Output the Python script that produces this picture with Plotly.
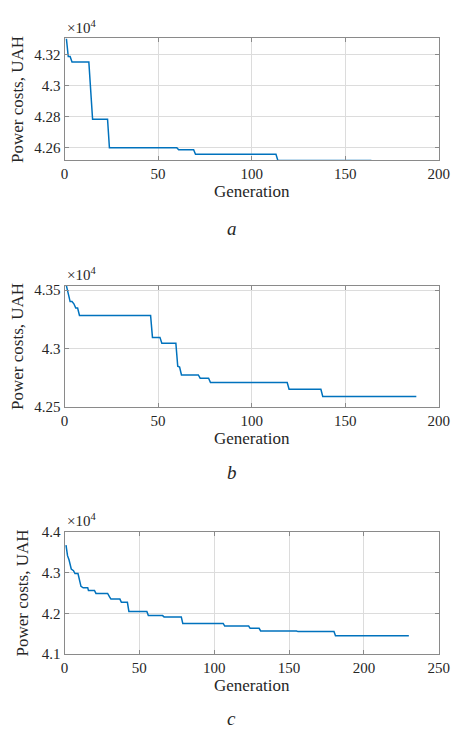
import plotly.graph_objects as go

# ---------------- data ----------------
gen_a = [1, 2, 3, 4, 13, 15, 23, 24, 60, 61, 69, 70, 113, 114, 164]
cost_a = [43303, 43187, 43187, 43152, 43152, 42783, 42783, 42600, 42600, 42587, 42587, 42558, 42558, 42518, 42518]

gen_b = [1, 3, 4, 5, 6, 7, 8, 46, 47, 51, 52, 59.5, 60.5, 61.5, 62.5, 71.5, 72.5, 77, 78, 119, 120, 137, 138, 188]
cost_b = [43538, 43402, 43402, 43383, 43346, 43346, 43283, 43283, 43096, 43096, 43046, 43046, 42850, 42843,
          42775, 42775, 42748, 42748, 42711, 42711, 42653, 42653, 42592, 42592]

gen_c = [1, 2, 3, 4.5, 6, 7, 9, 10, 11, 12.5, 15.5, 16, 20, 21, 28.8, 30, 31, 37, 38, 42, 43, 55, 56, 65.5,
         66.5, 78, 79, 106, 107, 123, 124, 130, 131, 155, 156, 180, 181, 230]
cost_c = [43680, 43420, 43320, 43090, 43050, 42980, 42980, 42790, 42663, 42627, 42627, 42564, 42564, 42490,
          42490, 42410, 42350, 42350, 42270, 42270, 42048, 42048, 41944, 41944, 41912, 41912, 41752, 41752,
          41687, 41687, 41630, 41630, 41566, 41566, 41550, 41550, 41446, 41446]

xticks_ab = [0, 50, 100, 150, 200]
xticks_c = [0, 50, 100, 150, 200, 250]

yticks_a = [42600, 42800, 43000, 43200]
ylabels_a = ["4.26", "4.28", "4.3", "4.32"]
yticks_b = [42500, 43000, 43500]
ylabels_b = ["4.25", "4.3", "4.35"]
yticks_c = [41000, 42000, 43000, 44000]
ylabels_c = ["4.1", "4.2", "4.3", "4.4"]

panel_letters = ["a", "b", "c"]
x_title = "Generation"
y_title = "Power costs, UAH"
exp_label = "×10<sup>4</sup>"

# ---------------- figure ----------------
# the page body adds an 8 px margin, so the figure is made 8 px smaller and
# every page-pixel position is shifted by that offset
OFF = 8
PAGE_W, PAGE_H = 464, 735
W, H = PAGE_W - OFF, PAGE_H - OFF
FONT = "Liberation Serif, Times New Roman, serif"
LINE = "#0072BD"
AXC = "#8a8a8a"
GRID = "#dcdcdc"
TXT = "#262626"


def px_x(p):
    return (p - OFF) / W


def px_y(p):
    return 1 - (p - OFF) / H


panels = [
    dict(x=gen_a, y=cost_a, xr=[0, 200], yr=[42518, 43303], xt=xticks_ab, yt=yticks_a, yl=ylabels_a,
         top=31, bot=155.7, letter_y=225),
    dict(x=gen_b, y=cost_b, xr=[0, 200], yr=[42500, 43538], xt=xticks_ab, yt=yticks_b, yl=ylabels_b,
         top=283.7, bot=408, letter_y=475),
    dict(x=gen_c, y=cost_c, xr=[0, 250], yr=[41000, 44000], xt=xticks_c, yt=yticks_c, yl=ylabels_c,
         top=535.7, bot=660.3, letter_y=726),
]

fig = go.Figure()
annotations = []
left, right = 62.3, 449.3

for i, p in enumerate(panels):
    k = "" if i == 0 else str(i + 1)
    fig.add_trace(go.Scatter(x=p["x"], y=p["y"], mode="lines", line=dict(color=LINE, width=1.5),
                             xaxis="x" + k, yaxis="y" + k, showlegend=False))
    common = dict(showline=True, linecolor=AXC, linewidth=1, mirror="ticks", ticks="inside",
                  ticklen=4, tickcolor=AXC, showgrid=True, gridcolor=GRID, gridwidth=1,
                  zeroline=False, tickfont=dict(family=FONT, size=15, color=TXT))
    fig.update_layout(**{
        "xaxis" + k: dict(domain=[px_x(left), px_x(right)], range=p["xr"], tickvals=p["xt"],
                          anchor="y" + k,
                          title=dict(text=x_title, font=dict(family=FONT, size=17, color=TXT), standoff=3),
                          **common),
        "yaxis" + k: dict(domain=[px_y(p["bot"]), px_y(p["top"])], range=p["yr"], tickvals=p["yt"],
                          ticktext=p["yl"], anchor="x" + k,
                          title=dict(text=y_title, font=dict(family=FONT, size=17, color=TXT), standoff=8),
                          **common),
    })
    annotations.append(dict(x=px_x(63), y=px_y(p["top"] - 1), xref="paper", yref="paper",
                            text=exp_label, showarrow=False, xanchor="left", yanchor="bottom",
                            font=dict(family=FONT, size=15, color=TXT)))
    annotations.append(dict(x=px_x(235), y=px_y(p["letter_y"]), xref="paper", yref="paper",
                            text="<i>" + panel_letters[i] + "</i>", showarrow=False,
                            xanchor="center", yanchor="middle",
                            font=dict(family=FONT, size=19, color=TXT)))

fig.update_layout(width=W, height=H, margin=dict(l=0, r=0, t=0, b=0),
                  paper_bgcolor="white", plot_bgcolor="white", annotations=annotations)

fig.write_html("out.html")
